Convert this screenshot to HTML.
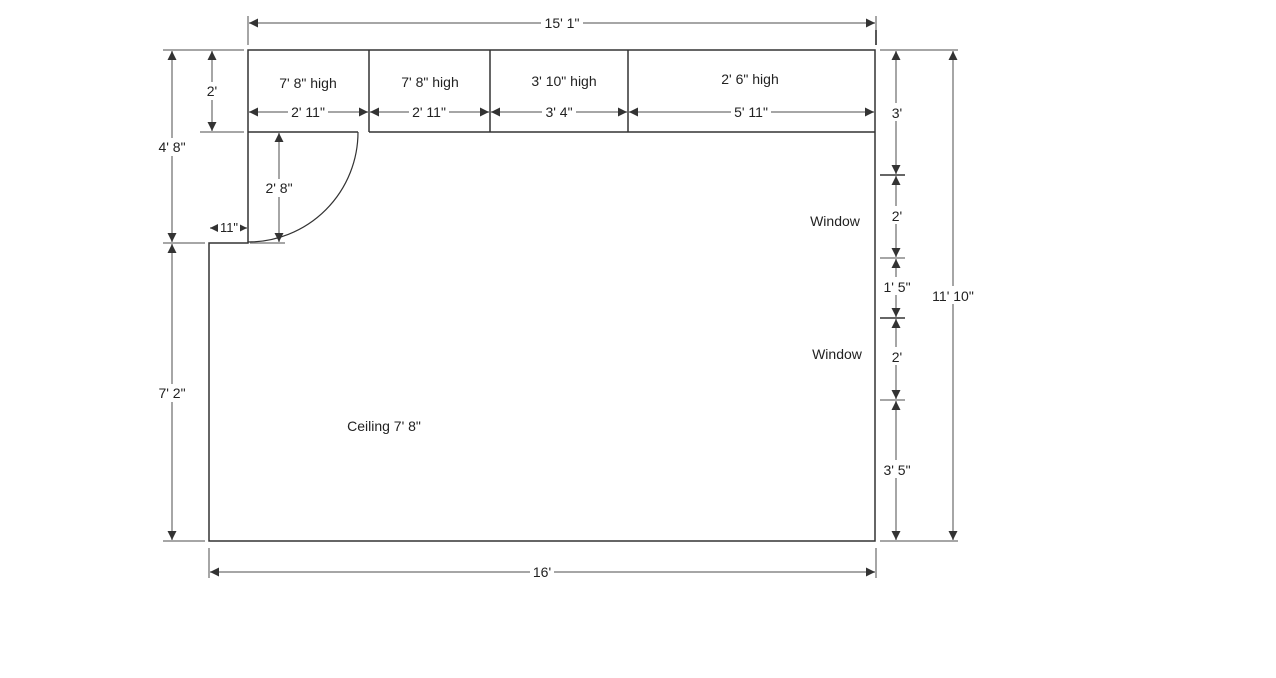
<!DOCTYPE html>
<html><head><style>
html,body{margin:0;padding:0;background:#fff;}
svg{display:block;}
text{font-family:"Liberation Sans",sans-serif;font-size:14px;fill:#222;}
</style></head><body>
<svg width="1276" height="678" viewBox="0 0 1276 678">
<defs>
<marker id="a" viewBox="0 0 10 10" refX="10" refY="5" markerWidth="9" markerHeight="9" markerUnits="userSpaceOnUse" orient="auto-start-reverse"><path d="M0,0 L10,5 L0,10 z" fill="#333"/></marker>
</defs>
<g stroke="#888" stroke-width="1.5" fill="none">
<line x1="248" y1="16" x2="248" y2="45"/><line x1="876" y1="16" x2="876" y2="45"/>
<line x1="209" y1="548" x2="209" y2="578"/><line x1="876" y1="548" x2="876" y2="578"/>
<line x1="163" y1="50" x2="244" y2="50"/><line x1="163" y1="243" x2="205" y2="243"/><line x1="163" y1="541" x2="205" y2="541"/>
<line x1="200" y1="132" x2="244" y2="132"/><line x1="250" y1="243" x2="285" y2="243"/>
<line x1="880" y1="50" x2="958" y2="50"/><line x1="880" y1="541" x2="958" y2="541"/>
<line x1="880" y1="175" x2="905" y2="175" stroke="#333"/><line x1="880" y1="258" x2="905" y2="258"/>
<line x1="880" y1="318" x2="905" y2="318" stroke="#333"/><line x1="880" y1="400" x2="905" y2="400"/>
<line x1="876" y1="30" x2="876" y2="45" stroke="#333"/>
</g>
<g stroke="#888" stroke-width="1.5" marker-start="url(#a)" marker-end="url(#a)">
<line x1="249" y1="23" x2="875" y2="23"/>
<line x1="210" y1="572" x2="875" y2="572"/>
<line x1="172" y1="51" x2="172" y2="242"/>
<line x1="172" y1="244" x2="172" y2="540"/>
<line x1="212" y1="51" x2="212" y2="131"/>
<line x1="279" y1="133" x2="279" y2="242"/>
<line x1="210" y1="228" x2="247" y2="228"/>
<line x1="249" y1="112" x2="368" y2="112"/>
<line x1="370" y1="112" x2="489" y2="112"/>
<line x1="491" y1="112" x2="627" y2="112"/>
<line x1="629" y1="112" x2="874" y2="112"/>
<line x1="896" y1="51" x2="896" y2="174"/>
<line x1="896" y1="176" x2="896" y2="257"/>
<line x1="896" y1="259" x2="896" y2="317"/>
<line x1="896" y1="319" x2="896" y2="399"/>
<line x1="896" y1="401" x2="896" y2="540"/>
<line x1="953" y1="51" x2="953" y2="540"/>
</g>
<g stroke="#333" stroke-width="1.5" fill="none">
<path d="M248,50 H875 V541 H209 V243 H248 Z"/>
<line x1="248" y1="132" x2="358" y2="132"/>
<line x1="369" y1="132" x2="875" y2="132"/>
<line x1="369" y1="50" x2="369" y2="132"/>
<line x1="490" y1="50" x2="490" y2="132"/>
<line x1="628" y1="50" x2="628" y2="132"/>
<path d="M358,132 A110,110 0 0 1 248,242" stroke-width="1.2"/>
</g>
<g fill="#fff">
<rect x="541" y="14" width="42" height="17"/>
<rect x="530" y="563" width="24" height="17"/>
<rect x="156" y="138" width="32" height="18"/>
<rect x="156" y="384" width="32" height="18"/>
<rect x="204" y="82" width="16" height="18"/>
<rect x="263" y="179" width="32" height="18"/>
<rect x="218" y="221" width="22" height="14"/>
<rect x="288" y="103" width="40" height="17"/>
<rect x="409" y="103" width="40" height="17"/>
<rect x="542" y="103" width="34" height="17"/>
<rect x="731" y="103" width="40" height="17"/>
<rect x="889" y="103" width="16" height="18"/>
<rect x="889" y="206" width="16" height="18"/>
<rect x="881" y="277" width="32" height="18"/>
<rect x="889" y="347" width="16" height="18"/>
<rect x="881" y="460" width="32" height="18"/>
<rect x="930" y="286" width="46" height="18"/>
</g>
<g text-anchor="middle">
<text x="562" y="28">15' 1"</text>
<text x="542" y="577">16'</text>
<text x="172" y="152">4' 8"</text>
<text x="172" y="398">7' 2"</text>
<text x="212" y="96">2'</text>
<text x="279" y="193">2' 8"</text>
<text x="229" y="232" style="font-size:13px">11"</text>
<text x="308" y="88">7' 8" high</text>
<text x="430" y="87">7' 8" high</text>
<text x="564" y="86">3' 10" high</text>
<text x="750" y="84">2' 6" high</text>
<text x="308" y="117">2' 11"</text>
<text x="429" y="117">2' 11"</text>
<text x="559" y="117">3' 4"</text>
<text x="751" y="117">5' 11"</text>
<text x="897" y="118">3'</text>
<text x="897" y="221">2'</text>
<text x="897" y="292">1' 5"</text>
<text x="897" y="362">2'</text>
<text x="897" y="475">3' 5"</text>
<text x="953" y="301">11' 10"</text>
<text x="835" y="226">Window</text>
<text x="837" y="359">Window</text>
<text x="384" y="431">Ceiling 7' 8"</text>
</g>
</svg>
</body></html>
